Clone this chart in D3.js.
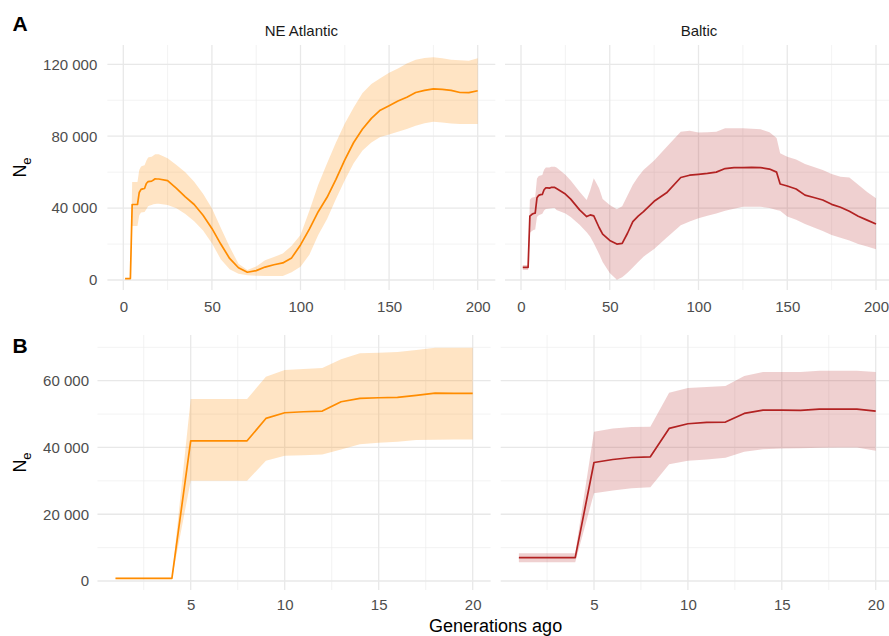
<!DOCTYPE html>
<html><head><meta charset="utf-8">
<script src="https://cdn.jsdelivr.net/npm/d3@7"></script>
<style>body{margin:0;background:#fff}svg{display:block}</style>
</head><body><svg id="c" width="889" height="636"></svg>
<script>
// ---------------- DATA ----------------
const populations = ["NE Atlantic", "Baltic"];
const panelTags = ["A", "B"];
const xTitle = "Generations ago";

// NE Atlantic
const atlGen = [1,2,3,4,5,6,7,8,9,10,11,12,13,14,15,16,17,18,19,20,
  25,30,35,40,45,50,55,60,65,70,75,80,85,90,95,100,105,110,115,120,125,130,135,140,145,150,155,160,165,170,175,180,185,190,195,200];
const atlNe = [800,800,800,800,42000,42000,42000,42000,48700,50400,50700,50900,53700,54700,54900,55000,55600,56300,56200,56200,
  55300,51000,46300,42000,36000,28700,20000,12000,6800,4300,5200,7200,8500,9500,12300,19500,28300,38000,46000,56000,66800,76500,84000,89900,94500,97000,99600,101700,104300,105500,106300,106000,105500,104300,104200,105300];
const atlLo = [600,600,600,600,30000,30000,30000,30000,36000,37500,37700,37900,39400,41000,41400,41700,42200,42300,42400,42400,
  41700,39900,36700,32700,27500,20400,11600,6000,3500,2600,2300,2200,2200,2200,4300,7400,14000,25000,34000,45000,55500,65000,72000,76500,79500,81000,82500,84000,85800,87200,88100,87600,87000,86800,86800,86800];
const atlHi = [1000,1000,1000,1000,54500,54500,54500,54500,61200,63200,63500,63800,66400,68200,68400,68600,69200,69900,69900,69900,
  67700,64000,60000,54700,48000,39900,29000,18500,9000,5600,7500,11000,12800,14700,19000,25000,38500,53000,65000,76500,87000,96000,104000,109000,112300,115300,117700,120500,122500,123500,123900,123300,122600,122200,122000,123300];

// Baltic
const balGen = [1,2,3,4,5,6,7,8,9,10,11,12,13,14,15,16,17,18,19,20,
  25,28,33,37,39,41,44,46,50,54,57,60,63,66,69,75,82,90,95,100,105,110,115,120,125,130,135,140,144,146,150,155,160,165,170,175,180,185,190,195,200];
const balNe = [7000,7000,7000,7000,35500,36400,37000,37200,45700,47100,47500,47600,50200,51200,51200,51100,51500,51500,51500,50900,
  47800,45000,39000,35300,36200,35700,29200,25500,22000,20000,20400,26000,32500,35500,38000,43800,48500,57000,58300,58800,59300,60000,62000,62500,62500,62700,62500,61700,60000,53400,52300,50600,47200,45900,44500,42100,40500,38200,35500,33300,31200];
const balLo = [5600,5600,5600,5600,26300,27100,27800,28100,35000,36000,36400,36900,38700,39500,39700,39800,39900,40000,40000,39000,
  37000,35000,30700,26500,24000,20500,14500,10000,3900,100,1500,4000,7000,10000,13000,17300,23500,30500,32500,34300,35800,37000,38500,39700,40800,40800,40800,40000,38900,38500,35300,33500,31200,29200,27300,25000,23500,22000,20000,18700,17100];
const balHi = [8300,8300,8300,8300,44700,45700,46100,46200,56400,57800,58100,58400,61400,62600,62600,62600,63000,63000,63000,62600,
  58500,55300,49100,44500,50000,56600,51000,45000,41700,39300,41000,47000,53000,57500,61200,66500,74000,82500,83000,82000,82200,82500,84400,84400,84400,84200,83800,82200,79000,70500,68600,67000,64600,62800,61200,59000,57500,57000,53000,49000,45500];

// Axis ticks
const xTicksA = [0,50,100,150,200];
const xMinorA = [25,75,125,175];
const yTicksA = [0,40000,80000,120000];
const yMinorA = [20000,60000,100000];
const xTicksB = [5,10,15,20];
const xMinorB = [2.5,7.5,12.5,17.5];
const yTicksB = [0,20000,40000,60000];
const yMinorB = [10000,30000,50000,70000];
const maxGenB = 20;

// ---------------- DRAW ----------------
const FONT = "'Liberation Sans', Arial, Helvetica, sans-serif";
const svg = d3.select("#c");
const fmt = d3.formatLocale({decimal: ".", thousands: " ", grouping: [3], currency: ["", ""]}).format(",");

const seriesDefs = [
  {gen: atlGen, ne: atlNe, lo: atlLo, hi: atlHi, line: "#FF8C00", fill: "#FF8C00", alpha: 0.23},
  {gen: balGen, ne: balNe, lo: balLo, hi: balHi, line: "#B22222", fill: "#B22222", alpha: 0.21}
];

let clipId = 0;
function panel(p) {
  const g = svg.append("g");
  const x = d3.scaleLinear().domain(p.xDom).range(p.xRng);
  const y = d3.scaleLinear().domain(p.yDom).range(p.yRng);
  const grid = g.append("g");
  p.yMinor.forEach(v => grid.append("line").attr("x1", p.left).attr("x2", p.right).attr("y1", y(v)).attr("y2", y(v)).attr("stroke", "#EEEEEE").attr("stroke-width", 0.7));
  p.xMinor.forEach(v => grid.append("line").attr("y1", p.top).attr("y2", p.bottom).attr("x1", x(v)).attr("x2", x(v)).attr("stroke", "#EEEEEE").attr("stroke-width", 0.7));
  p.yTicks.forEach(v => grid.append("line").attr("x1", p.left).attr("x2", p.right).attr("y1", y(v)).attr("y2", y(v)).attr("stroke", "#E8E8E8").attr("stroke-width", 1.3));
  p.xTicks.forEach(v => grid.append("line").attr("y1", p.top).attr("y2", p.bottom).attr("x1", x(v)).attr("x2", x(v)).attr("stroke", "#E8E8E8").attr("stroke-width", 1.3));

  const id = "clip" + (clipId++);
  svg.append("clipPath").attr("id", id).append("rect")
    .attr("x", p.left).attr("y", p.top).attr("width", p.right - p.left).attr("height", p.bottom - p.top);
  const s = p.series;
  const data = s.gen.map((gv, i) => ({g: gv, ne: s.ne[i], lo: s.lo[i], hi: s.hi[i]})).filter(d => d.g <= p.maxGen);
  const plot = g.append("g").attr("clip-path", `url(#${id})`);
  plot.append("path").datum(data)
    .attr("d", d3.area().x(d => x(d.g)).y0(d => y(d.lo)).y1(d => y(d.hi)))
    .attr("fill", s.fill).attr("fill-opacity", s.alpha);
  plot.append("path").datum(data)
    .attr("d", d3.line().x(d => x(d.g)).y(d => y(d.ne)))
    .attr("fill", "none").attr("stroke", s.line).attr("stroke-width", 1.7).attr("stroke-linejoin", "round");

  const xa = g.append("g").attr("transform", `translate(0,${p.bottom})`)
    .call(d3.axisBottom(x).tickValues(p.xTicks).tickSize(0).tickPadding(p.xPad).tickFormat(d3.format("d")));
  xa.select(".domain").remove();
  xa.selectAll("text").attr("font-family", FONT).attr("font-size", 15).attr("fill", "#4D4D4D");
  if (p.yAxis) {
    const ya = g.append("g").attr("transform", `translate(${p.yAxisX},0)`)
      .call(d3.axisLeft(y).tickValues(p.yTicks).tickSize(0).tickPadding(0).tickFormat(fmt));
    ya.select(".domain").remove();
    ya.selectAll("text").attr("font-family", FONT).attr("font-size", 15).attr("fill", "#4D4D4D");
  }
  if (p.strip) {
    g.append("text").attr("x", (p.left + p.right) / 2).attr("y", 35.5).attr("text-anchor", "middle")
      .attr("font-family", FONT).attr("font-size", 15).attr("fill", "#1A1A1A").text(p.strip);
  }
}

// Panel A
panel({xDom: [0, 200], xRng: [123.3, 477.7], yDom: [0, 120000], yRng: [280, 64.3],
  left: 107.4, right: 495.3, top: 45, bottom: 290,
  xTicks: xTicksA, xMinor: xMinorA, yTicks: yTicksA, yMinor: yMinorA, maxGen: 1e9,
  series: seriesDefs[0], xPad: 11.7, yAxis: true, yAxisX: 97.3, strip: populations[0]});
panel({xDom: [0, 200], xRng: [521, 876], yDom: [0, 120000], yRng: [280, 64.3],
  left: 505, right: 893, top: 45, bottom: 290,
  xTicks: xTicksA, xMinor: xMinorA, yTicks: yTicksA, yMinor: yMinorA, maxGen: 1e9,
  series: seriesDefs[1], xPad: 11.7, yAxis: false, strip: populations[1]});
// Panel B
panel({xDom: [5, 20], xRng: [190.7, 472.7], yDom: [0, 60000], yRng: [581, 380.7],
  left: 97.5, right: 490.6, top: 335, bottom: 590,
  xTicks: xTicksB, xMinor: xMinorB, yTicks: yTicksB, yMinor: yMinorB, maxGen: maxGenB,
  series: seriesDefs[0], xPad: 9.7, yAxis: true, yAxisX: 89});
panel({xDom: [5, 20], xRng: [594, 875.7], yDom: [0, 60000], yRng: [581, 380.7],
  left: 500.7, right: 893.8, top: 335, bottom: 590,
  xTicks: xTicksB, xMinor: xMinorB, yTicks: yTicksB, yMinor: yMinorB, maxGen: maxGenB,
  series: seriesDefs[1], xPad: 9.7, yAxis: false});

// Panel tags
svg.append("text").attr("x", 12.5).attr("y", 30.7).attr("font-family", FONT).attr("font-weight", "bold").attr("font-size", 21).attr("fill", "#000").text(panelTags[0]);
svg.append("text").attr("x", 12.5).attr("y", 352.7).attr("font-family", FONT).attr("font-weight", "bold").attr("font-size", 21).attr("fill", "#000").text(panelTags[1]);

// Y titles
function neTitle(cy) {
  const t = svg.append("text").attr("transform", `translate(26,${cy}) rotate(-90)`).attr("text-anchor", "middle")
    .attr("font-family", FONT).attr("font-size", 18).attr("fill", "#000");
  t.append("tspan").text("N");
  t.append("tspan").attr("font-size", 13).attr("dy", 5).text("e");
}
neTitle(167.5);
neTitle(462.5);

// X title
svg.append("text").attr("x", 495.6).attr("y", 631.5).attr("text-anchor", "middle")
  .attr("font-family", FONT).attr("font-size", 18).attr("fill", "#000").text(xTitle);
</script></body></html>
